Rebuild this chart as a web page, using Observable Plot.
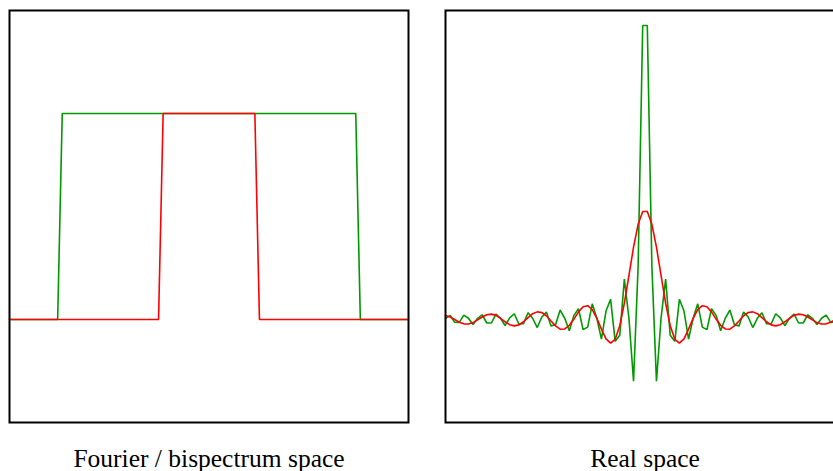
<!DOCTYPE html>
<html><head><meta charset="utf-8">
<script src="https://cdn.jsdelivr.net/npm/d3@7"></script>
<script src="https://cdn.jsdelivr.net/npm/@observablehq/plot@0.6"></script>
<style>
html,body{margin:0;padding:0;background:#fff;overflow:hidden}
#wrap{position:relative;width:833px;height:471px;overflow:hidden}
#wrap>div{position:absolute;top:0;width:417px;height:471px}
#wrap svg{max-width:none !important;display:block}
</style>
</head><body>
<div id="wrap"><div id="left" style="left:0"></div><div id="right" style="left:436px"></div></div>
<script>
// ---- Fourier / bispectrum space: top-hat filters (breakpoints of sampled curves)
const fourierX      = [-43.5, -33, -32, 32, 33, 43.5];
const fourierGreen  = [0, 0, 1, 1, 0, 0];
const fourierRedX   = [-43.5, -11, -10, 10, 11, 43.5];
const fourierRed    = [0, 0, 1, 1, 0, 0];

// ---- Real space: sampled values at half-integer positions -43.5 … 43.5
const realX = d3.range(-43.5, 44, 1);
const realGreen = [0.004, 0.020, -0.013, -0.014, 0.021, 0.006, -0.024, 0.006, 0.023, -0.017, -0.017, 0.026, 0.006, -0.030, 0.008, 0.028, -0.022, -0.020, 0.033, 0.006, -0.039, 0.012, 0.036, -0.031, -0.025, 0.046, 0.006, -0.055, 0.020, 0.052, -0.049, -0.037, 0.076, 0.006, -0.095, 0.041, 0.098, -0.106, -0.077, 0.196, 0.006, -0.300, 0.258, 1.427,
  1.427, 0.258, -0.300, 0.006, 0.196, -0.077, -0.106, 0.098, 0.041, -0.095, 0.006, 0.076, -0.037, -0.049, 0.052, 0.020, -0.055, 0.006, 0.046, -0.025, -0.031, 0.036, 0.012, -0.039, 0.006, 0.033, -0.020, -0.022, 0.028, 0.008, -0.030, 0.006, 0.026, -0.017, -0.017, 0.023, 0.006, -0.024, 0.006, 0.021, -0.014, -0.013, 0.020, 0.004];
const realRed = [0.019, 0.012, 0.000, -0.013, -0.021, -0.022, -0.015, -0.002, 0.012, 0.023, 0.026, 0.020, 0.006, -0.011, -0.025, -0.031, -0.026, -0.011, 0.009, 0.028, 0.037, 0.034, 0.018, -0.007, -0.031, -0.047, -0.046, -0.028, 0.002, 0.037, 0.062, 0.067, 0.048, 0.006, -0.047, -0.094, -0.115, -0.096, -0.030, 0.079, 0.214, 0.351, 0.462, 0.524,
  0.524, 0.462, 0.351, 0.214, 0.079, -0.030, -0.096, -0.115, -0.094, -0.047, 0.006, 0.048, 0.067, 0.062, 0.037, 0.002, -0.028, -0.046, -0.047, -0.031, -0.007, 0.018, 0.034, 0.037, 0.028, 0.009, -0.011, -0.026, -0.031, -0.025, -0.011, 0.006, 0.020, 0.026, 0.023, 0.012, -0.002, -0.015, -0.022, -0.021, -0.013, 0.000, 0.012, 0.019];

const labels = ["Fourier / bispectrum space", "Real space"];
const GREEN = "#009900", RED = "#ff0000";

function panel(lines, label) {
  return Plot.plot({
    width: 417, height: 471,
    marginLeft: 9, marginRight: 9, marginTop: 10, marginBottom: 49,
    x: {domain: [-43.5, 43.5], axis: null},
    y: {domain: [-0.5, 1.5], axis: null},
    style: {background: "#fff", overflow: "visible", maxWidth: "none"},
    marks: [
      ...lines.map(l => Plot.line(l.x.map((x, i) => ({x, y: l.y[i]})), {x: "x", y: "y", stroke: l.color, strokeWidth: 1.6, strokeLinejoin: "miter"})),
      Plot.frame({stroke: "#000", strokeWidth: 2}),
      Plot.text([label], {text: d => d, frameAnchor: "bottom", lineAnchor: "bottom", dy: 44,
        fontFamily: "Liberation Serif", fontSize: 25.5, fill: "#000"})
    ]
  });
}

document.getElementById("left").append(panel([
  {x: fourierX, y: fourierGreen, color: GREEN},
  {x: fourierRedX, y: fourierRed, color: RED}
], labels[0]));
document.getElementById("right").append(panel([
  {x: realX, y: realGreen, color: GREEN},
  {x: realX, y: realRed, color: RED}
], labels[1]));
</script>
</body></html>
